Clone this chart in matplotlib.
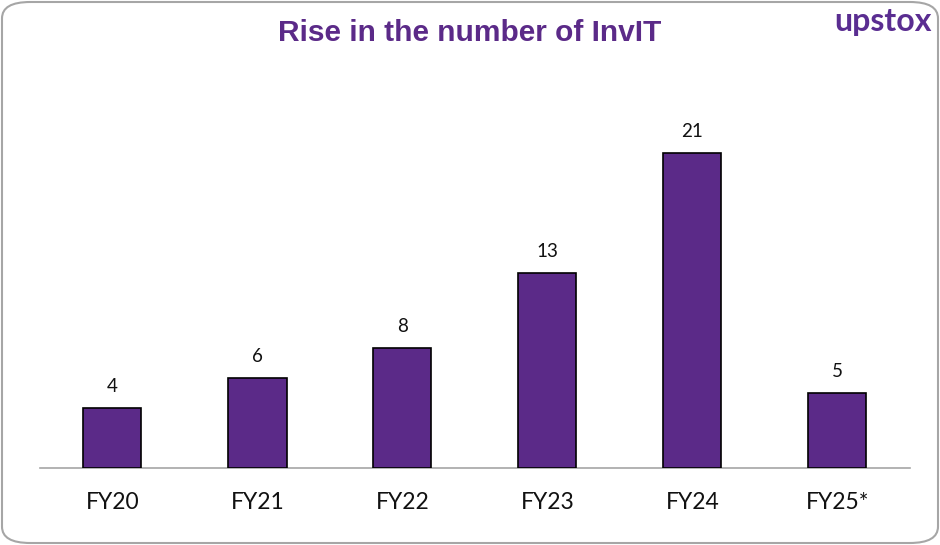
import matplotlib.pyplot as plt
from matplotlib.patches import FancyBboxPatch

years = ["FY20", "FY21", "FY22", "FY23", "FY24", "FY25*"]
invits = [4, 6, 8, 13, 21, 5]

purple = "#5b2a88"

fig = plt.figure(figsize=(9.4, 5.45), dpi=100)
W, H = 940, 545

## rounded grey frame around the whole picture
frame = FancyBboxPatch((2 / W, 2 / H), 1 - 4 / W, 1 - 4 / H,
                       boxstyle="round,pad=0,rounding_size=0.03",
                       transform=fig.transFigure, fill=False,
                       edgecolor="#a6a6a6", linewidth=1.5)
fig.patches.append(frame)

ax = fig.add_axes([40 / W, (H - 468) / H, 870 / W, (468 - 60) / H])
x = range(len(years))
ax.bar(x, invits, width=0.4, color=purple, edgecolor="black", linewidth=1.2, zorder=3)
for i, v in zip(x, invits):
    ax.text(i, v + 0.85, str(v), ha="center", va="bottom", fontsize=13.5,
            family="Lato", color="#111111")

ax.set_xlim(-0.5, len(years) - 0.5)
ax.set_ylim(0, 27.2)
ax.set_xticks(list(x))
ax.set_xticklabels(years, fontsize=16.5, family="Lato", color="#111111")
ax.tick_params(axis="x", length=0, pad=17)
ax.set_yticks([])
for s in ["top", "right", "left"]:
    ax.spines[s].set_visible(False)
ax.spines["bottom"].set_color("#a6a6a6")
ax.spines["bottom"].set_linewidth(1.2)

fig.text(0.5, (H - 33) / H, "Rise in the number of InvIT", ha="center", va="center",
         fontsize=21.5, fontweight="bold", family="Liberation Sans", color=purple)
fig.text(1 - 8 / W, (H - 22) / H, "upstox", ha="right", va="center",
         fontsize=23, fontweight="bold", family="Lato", color="#5a2d91")

fig.savefig("out.png", dpi=100)
